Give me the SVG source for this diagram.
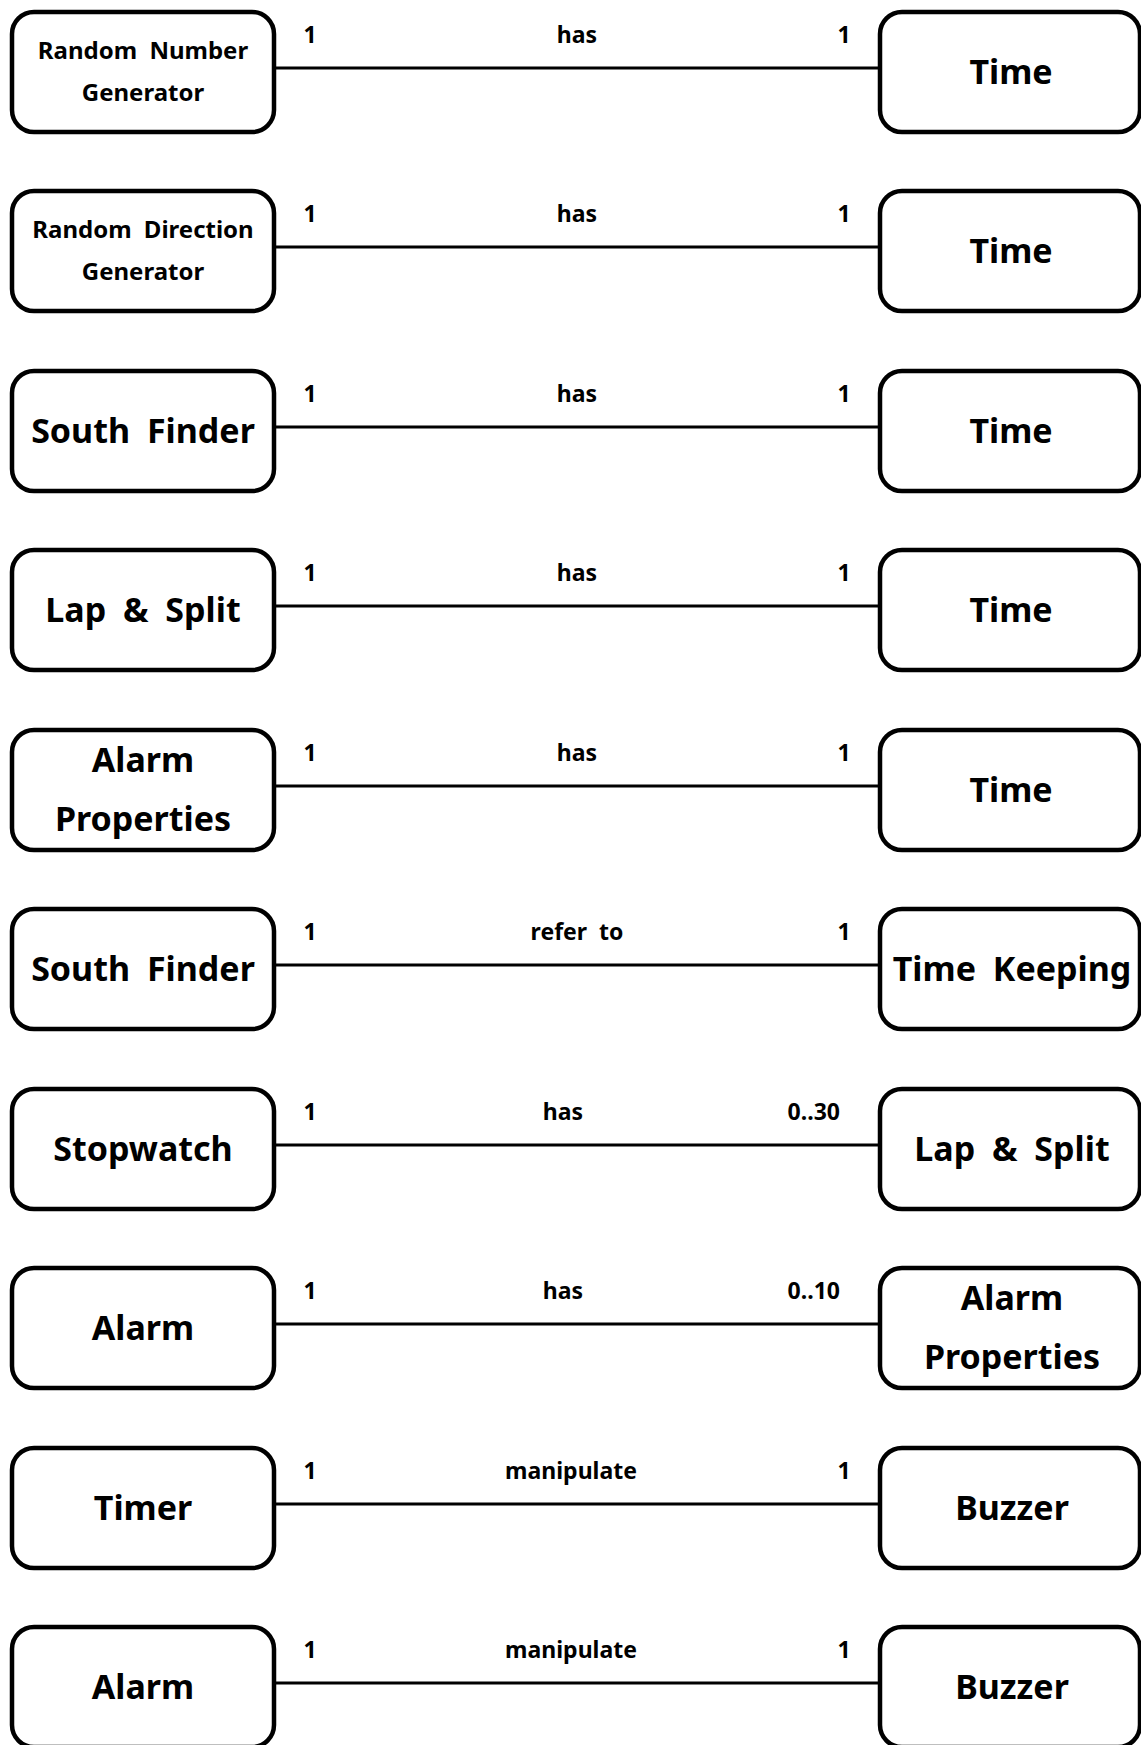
<svg xmlns="http://www.w3.org/2000/svg" width="1141" height="1745" viewBox="0 0 1141 1745">
<style>
.box{fill:#fff;stroke:#000;stroke-width:4.5}
.conn{stroke:#000;stroke-width:3;fill:none}
text{font-family:"Noto Sans","Open Sans","Liberation Sans",sans-serif;font-weight:bold;fill:#000}
.big{font-size:34px;text-anchor:middle;word-spacing:8px}
.sm{font-size:24px;text-anchor:middle;word-spacing:6px}
.lbl{font-size:23px;text-anchor:middle;word-spacing:6px}
.end{text-anchor:end}
</style>
<g id="connectors">
<line class="conn" x1="276" y1="68" x2="878" y2="68"/>
<line class="conn" x1="276" y1="247" x2="878" y2="247"/>
<line class="conn" x1="276" y1="427" x2="878" y2="427"/>
<line class="conn" x1="276" y1="606" x2="878" y2="606"/>
<line class="conn" x1="276" y1="786" x2="878" y2="786"/>
<line class="conn" x1="276" y1="965" x2="878" y2="965"/>
<line class="conn" x1="276" y1="1145" x2="878" y2="1145"/>
<line class="conn" x1="276" y1="1324" x2="878" y2="1324"/>
<line class="conn" x1="276" y1="1504" x2="878" y2="1504"/>
<line class="conn" x1="276" y1="1683" x2="878" y2="1683"/>
</g>
<g id="labels">
<text class="lbl" x="310" y="43">1</text><text class="lbl" x="577" y="43">has</text><text class="lbl" x="844" y="43">1</text>
<text class="lbl" x="310" y="222">1</text><text class="lbl" x="577" y="222">has</text><text class="lbl" x="844" y="222">1</text>
<text class="lbl" x="310" y="402">1</text><text class="lbl" x="577" y="402">has</text><text class="lbl" x="844" y="402">1</text>
<text class="lbl" x="310" y="581">1</text><text class="lbl" x="577" y="581">has</text><text class="lbl" x="844" y="581">1</text>
<text class="lbl" x="310" y="761">1</text><text class="lbl" x="577" y="761">has</text><text class="lbl" x="844" y="761">1</text>
<text class="lbl" x="310" y="940">1</text><text class="lbl" x="577" y="940">refer to</text><text class="lbl" x="844" y="940">1</text>
<text class="lbl" x="310" y="1120">1</text><text class="lbl" x="563" y="1120">has</text><text class="lbl end" x="840" y="1120">0..30</text>
<text class="lbl" x="310" y="1299">1</text><text class="lbl" x="563" y="1299">has</text><text class="lbl end" x="840" y="1299">0..10</text>
<text class="lbl" x="310" y="1479">1</text><text class="lbl" x="571" y="1479">manipulate</text><text class="lbl" x="844" y="1479">1</text>
<text class="lbl" x="310" y="1658">1</text><text class="lbl" x="571" y="1658">manipulate</text><text class="lbl" x="844" y="1658">1</text>
</g>
<g id="n-rng"><rect class="box" x="12" y="12" width="262" height="120" rx="22"/><text class="sm" x="143" y="59">Random Number</text><text class="sm" x="143" y="101">Generator</text></g>
<g id="n-time1"><rect class="box" x="880" y="12" width="260" height="120" rx="22"/><text class="big" x="1011" y="84">Time</text></g>
<g id="n-rdg"><rect class="box" x="12" y="191" width="262" height="120" rx="22"/><text class="sm" x="143" y="238">Random Direction</text><text class="sm" x="143" y="280">Generator</text></g>
<g id="n-time2"><rect class="box" x="880" y="191" width="260" height="120" rx="22"/><text class="big" x="1011" y="263">Time</text></g>
<g id="n-south1"><rect class="box" x="12" y="371" width="262" height="120" rx="22"/><text class="big" x="143" y="443">South Finder</text></g>
<g id="n-time3"><rect class="box" x="880" y="371" width="260" height="120" rx="22"/><text class="big" x="1011" y="443">Time</text></g>
<g id="n-lap1"><rect class="box" x="12" y="550" width="262" height="120" rx="22"/><text class="big" x="143" y="622">Lap &amp; Split</text></g>
<g id="n-time4"><rect class="box" x="880" y="550" width="260" height="120" rx="22"/><text class="big" x="1011" y="622">Time</text></g>
<g id="n-alprop1"><rect class="box" x="12" y="730" width="262" height="120" rx="22"/><text class="big" x="143" y="772">Alarm</text><text class="big" x="143" y="831">Properties</text></g>
<g id="n-time5"><rect class="box" x="880" y="730" width="260" height="120" rx="22"/><text class="big" x="1011" y="802">Time</text></g>
<g id="n-south2"><rect class="box" x="12" y="909" width="262" height="120" rx="22"/><text class="big" x="143" y="981">South Finder</text></g>
<g id="n-timekeeping"><rect class="box" x="880" y="909" width="260" height="120" rx="22"/><text class="big" x="1012" y="981">Time Keeping</text></g>
<g id="n-stopwatch"><rect class="box" x="12" y="1089" width="262" height="120" rx="22"/><text class="big" x="143" y="1161">Stopwatch</text></g>
<g id="n-lap2"><rect class="box" x="880" y="1089" width="260" height="120" rx="22"/><text class="big" x="1012" y="1161">Lap &amp; Split</text></g>
<g id="n-alarm1"><rect class="box" x="12" y="1268" width="262" height="120" rx="22"/><text class="big" x="143" y="1340">Alarm</text></g>
<g id="n-alprop2"><rect class="box" x="880" y="1268" width="260" height="120" rx="22"/><text class="big" x="1012" y="1310">Alarm</text><text class="big" x="1012" y="1369">Properties</text></g>
<g id="n-timer"><rect class="box" x="12" y="1448" width="262" height="120" rx="22"/><text class="big" x="143" y="1520">Timer</text></g>
<g id="n-buzzer1"><rect class="box" x="880" y="1448" width="260" height="120" rx="22"/><text class="big" x="1012" y="1520">Buzzer</text></g>
<g id="n-alarm2"><rect class="box" x="12" y="1627" width="262" height="120" rx="22"/><text class="big" x="143" y="1699">Alarm</text></g>
<g id="n-buzzer2"><rect class="box" x="880" y="1627" width="260" height="120" rx="22"/><text class="big" x="1012" y="1699">Buzzer</text></g>
</svg>
